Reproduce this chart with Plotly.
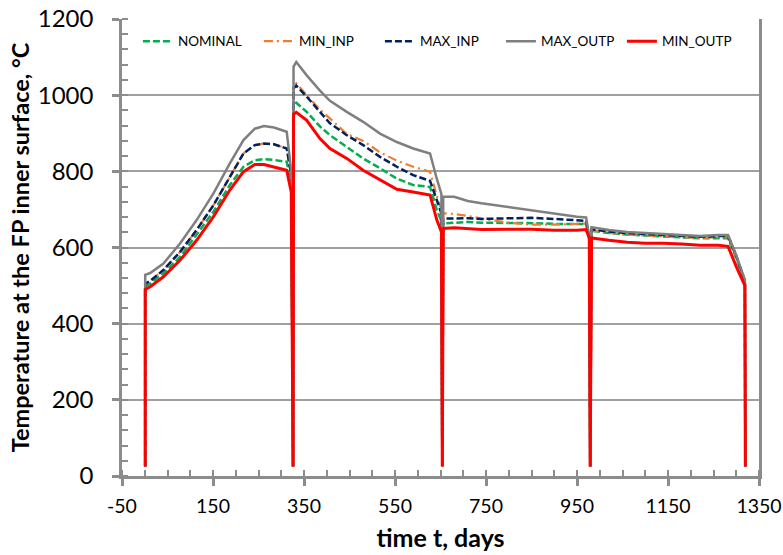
import plotly.graph_objects as go

days = [1, 1, 12, 41, 78, 114, 151, 187, 217, 242, 262, 284, 312, 322, 326,
        327, 333, 356, 385, 407, 444, 480, 517, 554, 590, 627, 642, 652, 654,
        656, 680, 710, 740, 800, 850, 900, 950, 970, 977, 979,
        982, 1020, 1060, 1100, 1140, 1180, 1220, 1260, 1282, 1300, 1319, 1320]

nominal = [25, 498, 505, 532, 576, 633, 694, 764, 812, 829, 832, 830, 825, 770, 25,
           972, 980, 956, 918, 895, 864, 834, 808, 781, 764, 759, 698, 670, 25,
           663, 665, 667, 665, 665, 664, 662, 662, 662, 620, 25,
           644, 638, 634, 631, 629, 626, 624, 624, 624, 572, 508, 25]

min_inp = [25, 505, 512, 541, 589, 646, 711, 786, 847, 869, 873, 871, 860, 790, 25,
           1025, 1031, 1000, 962, 939, 898, 880, 850, 828, 812, 799, 735, 700, 25,
           690, 688, 683, 676, 665, 660, 660, 662, 663, 625, 25,
           645, 638, 634, 631, 629, 627, 625, 628, 628, 575, 510, 25]

max_inp = [25, 505, 512, 541, 589, 646, 711, 786, 847, 869, 873, 871, 860, 790, 25,
           1018, 1025, 996, 955, 926, 895, 869, 838, 812, 790, 775, 724, 690, 25,
           676, 676, 677, 675, 676, 678, 675, 672, 670, 625, 25,
           648, 642, 638, 635, 633, 630, 628, 630, 630, 578, 512, 25]

max_outp = [25, 528, 533, 558, 611, 672, 742, 821, 882, 912, 919, 915, 904, 800, 25,
            1075, 1087, 1052, 1012, 985, 956, 930, 899, 877, 860, 847, 780, 740, 25,
            733, 733, 722, 716, 706, 697, 688, 681, 679, 628, 25,
            653, 646, 641, 638, 635, 632, 630, 633, 633, 580, 515, 25]

min_outp = [25, 490, 497, 523, 567, 619, 681, 751, 799, 818, 818, 812, 803, 745, 25,
            950, 955, 934, 886, 860, 834, 803, 777, 753, 746, 738, 672, 641, 25,
            650, 652, 650, 647, 648, 648, 645, 645, 647, 625, 25,
            625, 619, 614, 611, 611, 609, 606, 606, 603, 550, 500, 25]

x_tickvals = [-50, 150, 350, 550, 750, 950, 1150, 1350]
x_ticktext = ["-50", "150", "350", "550", "750", "950", "1150", "1350"]

series = [
    ("NOMINAL", nominal, "#00B050", "7px,3px", 2.5),
    ("MIN_INP", min_inp, "#ED7D31", "9px,4px,2px,4px", 2.2),
    ("MAX_INP", max_inp, "#002060", "7px,3px", 2.5),
    ("MAX_OUTP", max_outp, "#7F7F7F", "solid", 2.5),
    ("MIN_OUTP", min_outp, "#FF0000", "solid", 3),
]

fig = go.Figure()
for name, vals, color, dash, w in series:
    fig.add_trace(go.Scatter(x=days, y=vals, mode="lines", name=name,
                             line=dict(color=color, dash=dash, width=w)))

FONT = "Lato"
axis_col = "#8C8C8C"

fig.update_layout(
    width=783, height=555,
    margin=dict(l=122, r=24, t=19, b=79, autoexpand=False),
    paper_bgcolor="white", plot_bgcolor="white",
    font=dict(family=FONT, color="black"),
    showlegend=True,
    legend=dict(orientation="h", x=0.025, y=0.985, xanchor="left", yanchor="top",
                font=dict(size=13.5, family=FONT), bgcolor="rgba(0,0,0,0)",
                entrywidth=76, entrywidthmode="pixels", itemwidth=30),
    xaxis=dict(range=[-50, 1350], tickvals=x_tickvals, ticktext=x_ticktext,
               showgrid=False, zeroline=False, automargin=False,
               showline=True, linecolor=axis_col, linewidth=2.5,
               ticks="outside", ticklen=7, tickwidth=2.5, tickcolor=axis_col,
               tickfont=dict(size=19.5), ticklabelstandoff=4,
               minor=dict(dtick=50, tick0=-50, ticks="inside", ticklen=6, tickwidth=1.5,
                          tickcolor=axis_col, showgrid=False),
               title=dict(text="<b>time t, days</b>", font=dict(size=25), standoff=14)),
    yaxis=dict(range=[0, 1200], dtick=200, showgrid=True, gridcolor="#A0A0A0", gridwidth=1.5,
               zeroline=False, showline=True, linecolor=axis_col, linewidth=2.5, mirror=True,
               automargin=False,
               ticks="outside", ticklen=7, tickwidth=2.5, tickcolor=axis_col,
               tickfont=dict(size=24), ticklabelstandoff=14,
               minor=dict(dtick=40, ticks="inside", ticklen=6, tickwidth=1.5,
                          tickcolor=axis_col, showgrid=False),
               title=dict(text="<b>Temperature at the FP inner surface, °C</b>",
                          font=dict(size=23.5), standoff=2)),
)

fig.write_html("out.html")
